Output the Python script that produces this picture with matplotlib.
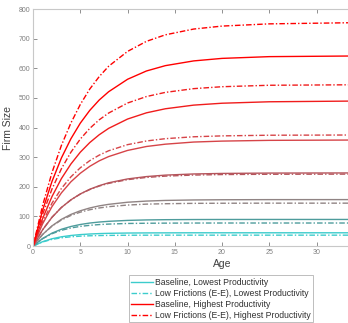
import matplotlib.pyplot as plt

age = [0, 1, 2, 3, 4, 5, 6, 7, 8, 10, 12, 14, 17, 20, 25, 34, 40]

# baseline (solid) and low frictions (dash-dot), lowest -> highest productivity
base = [
    [0, 14.9, 24.8, 31.5, 35.9, 38.9, 40.9, 42.3, 43.2, 44.2, 44.6, 44.8, 45, 45, 45, 45, 45],
    [0, 25.5, 43.8, 56.9, 66.2, 73.0, 77.9, 81.3, 83.7, 86.8, 88.4, 89.2, 89.7, 89.9, 90, 90, 90],
    [0, 39.1, 68.3, 90.4, 106.9, 119.3, 128.7, 135.8, 141.0, 148.1, 152.0, 154.2, 155.8, 156.5, 156.9, 157, 157],
    [0, 54.6, 97.1, 130.4, 156.1, 176.1, 191.9, 204.0, 213.7, 226.7, 234.7, 239.6, 243.5, 245.3, 246.5, 247, 247],
    [0, 74.5, 133.2, 179.7, 216.9, 245.9, 269.2, 287.8, 302.2, 322.9, 336.2, 344.0, 351.2, 354.4, 356.9, 358, 358],
    [0, 92.1, 167.1, 227.9, 276.9, 317.0, 349.4, 375.8, 397.4, 428.8, 449.8, 463.5, 475.8, 482.2, 487.1, 489.5, 490],
    [0, 120.0, 218.0, 297.5, 362.0, 415.0, 458.0, 493.0, 521.0, 563.0, 591.0, 609.0, 625.0, 633.5, 639.4, 641.6, 642],
]
low_fric = [
    [0, 14.0, 22.7, 28.1, 31.5, 33.6, 34.9, 35.7, 36.2, 36.7, 36.9, 37, 37, 37, 37, 37, 37],
    [0, 24.9, 41.9, 53.4, 61.2, 66.6, 70.2, 72.7, 74.4, 76.4, 77.2, 77.6, 77.9, 78, 78, 78, 78],
    [0, 38.9, 67.4, 88.2, 103.4, 114.6, 122.8, 128.8, 133.1, 138.6, 141.7, 143.1, 144.3, 144.7, 145, 145, 145],
    [0, 54.9, 97.4, 130.5, 155.8, 175.7, 190.8, 202.7, 211.7, 224.3, 231.8, 236.2, 239.8, 241.5, 242.5, 243, 243],
    [0, 81.0, 144.8, 194.6, 233.6, 264.4, 288.4, 307.1, 321.8, 342.4, 354.8, 362.6, 369.0, 372.0, 374.2, 375, 375],
    [0, 106.3, 192.4, 261.1, 316.6, 361.3, 397.3, 426.2, 449.1, 482.9, 504.7, 518.8, 531.4, 537.9, 542.8, 544.5, 545],
    [0, 136.0, 248.0, 340.0, 415.0, 478.0, 530.0, 572.0, 607.0, 657.0, 691.0, 713.0, 732.5, 742.5, 750.0, 754.0, 755],
]
colors = ["#3CCCCC", "#4E9C9C", "#908484", "#B5555C", "#D64448", "#F01C1C", "#FF0000"]
labels = [
    "Baseline, Lowest Productivity",
    "Low Frictions (E-E), Lowest Productivity",
    "Baseline, Highest Productivity",
    "Low Frictions (E-E), Highest Productivity",
]

plt.rcParams["font.family"] = ["Liberation Sans", "DejaVu Sans"]

fig = plt.figure(figsize=(3.48, 3.23), dpi=100)
# axes run past the right edge of the picture, as in the reference
ax = fig.add_axes([0.095, 0.238, 1.086, 0.734])

dashdot = (0, (4, 1.5, 1, 1.5))
handles = {}
for i, (b, l, c) in enumerate(zip(base, low_fric, colors)):
    hb, = ax.plot(age, b, color=c, lw=1.0)
    hl, = ax.plot(age, l, color=c, lw=1.0, linestyle=dashdot)
    if i == 0:
        handles[0], handles[1] = hb, hl
    if i == len(colors) - 1:
        handles[2], handles[3] = hb, hl

ax.set_xlim(0, 40)
ax.set_ylim(0, 800)
ax.set_xticks(range(0, 31, 5))
ax.set_yticks(range(0, 801, 100))
ax.tick_params(direction="in", length=3, width=0.6, labelsize=5, colors="#7f7f7f",
               top=True, right=True, pad=2)
for s in ax.spines.values():
    s.set_color("#c8c8c8")
    s.set_linewidth(0.8)
ax.set_xlabel("Age", fontsize=7.5, color="#404040", labelpad=2)
ax.set_ylabel("Firm Size", fontsize=7.5, color="#404040", labelpad=4)

leg = fig.legend([handles[k] for k in range(4)], labels, loc="lower center",
                 bbox_to_anchor=(221 / 348, 0.0), fontsize=6.2, frameon=True, fancybox=False,
                 handlelength=2.6, handletextpad=0.2, borderpad=0.25, labelspacing=0.25,
                 borderaxespad=0.1)
leg.get_frame().set_edgecolor("#a0a0a0")
leg.get_frame().set_linewidth(0.6)
for t in leg.get_texts():
    t.set_color("#303030")

fig.savefig("out.png", dpi=100)
